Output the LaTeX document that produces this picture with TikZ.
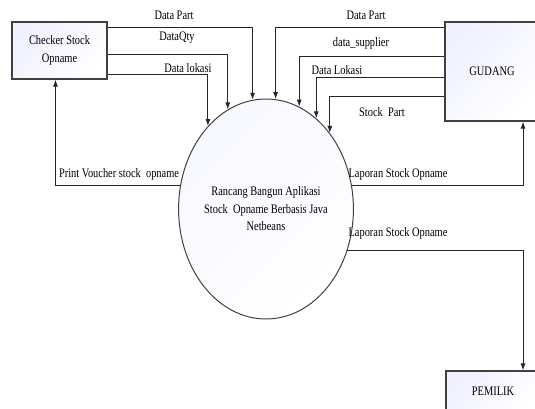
\documentclass[tikz,border=0pt]{standalone}
\usepackage{fontspec}
\setmainfont{Liberation Serif}[FakeStretch=0.8]
\usetikzlibrary{arrows.meta,shapes.geometric}

\tikzset{
  entitas/.style={draw=black!75, line width=1.1pt, top color=blue!6, bottom color=white, shading angle=45, align=center, inner sep=0pt},
  proses/.style={ellipse, draw=black!75, line width=1pt, top color=blue!3, bottom color=white, shading angle=45, align=center, inner sep=0pt, minimum width=156pt, minimum height=220pt},
  alir/.style={-{Latex[length=7pt,width=5pt]}, draw=black!85, line width=1pt},
  teks/.style={inner sep=0pt}
}

\begin{document}
\begin{tikzpicture}[x=1pt, y=-1pt, font=\fontsize{13}{15}\selectfont]
		\useasboundingbox (0,0) rectangle (535,409);
		% entitas
		\node [entitas, minimum width=95pt, minimum height=57pt, font=\fontsize{13}{18}\selectfont] (chk) at (59.5,50.5) {Checker Stock\\Opname};
		\node [entitas, minimum width=94pt, minimum height=99pt] (gdg) at (492,71.5) {GUDANG};
		\node [entitas, minimum width=94pt, minimum height=40pt] (pml) at (493,391) {PEMILIK};
		% proses
		\node [proses, font=\fontsize{13}{17.5}\selectfont] (proc) at (266,209) {Rancang Bangun Aplikasi\\Stock\ \ Opname Berbasis Java\\Netbeans};
		% aliran data
		\draw [alir] (chk.east |- 0,28) -| (proc.97);
		\draw [alir] (chk.east |- 0,55) -| (proc.111);
		\draw [alir] (chk.east |- 0,75) -| (proc.125);
		\draw [alir] (gdg.west |- 0,28) -| (proc.85);
		\draw [alir] (gdg.west |- 0,57) -| (proc.72);
		\draw [alir] (gdg.west |- 0,78) -| (proc.61);
		\draw [alir] (gdg.west |- 0,97) -| (proc.50);
		\draw [alir] (proc.165) -| ([xshift=-4pt]chk.south);
		\draw [alir] (proc.15) -| (gdg.south -| 523,0);
		\draw [alir] (proc.-27) -| (pml.north -| 523,0);
		% label
		\node [teks] (lPart) at (174,15) {Data Part};
		\node [teks] (lQty) at (177,38) {DataQty};
		\node [teks] (lLok) at (188,68) {Data lokasi};
		\node [teks] (lPartG) at (366,15) {Data Part};
		\node [teks] (lSup) at (361,43) {data\_supplier};
		\node [teks] (lLokG) at (337,70) {Data Lokasi};
		\node [teks] (lStock) at (382,112) {Stock\ \ Part};
		\node [teks] (lPrint) at (119,174) {Print Voucher stock\ \ opname};
		\node [teks] (lLap1) at (398,174) {Laporan Stock Opname};
		\node [teks] (lLap2) at (398,233) {Laporan Stock Opname};
\end{tikzpicture}
\end{document}
